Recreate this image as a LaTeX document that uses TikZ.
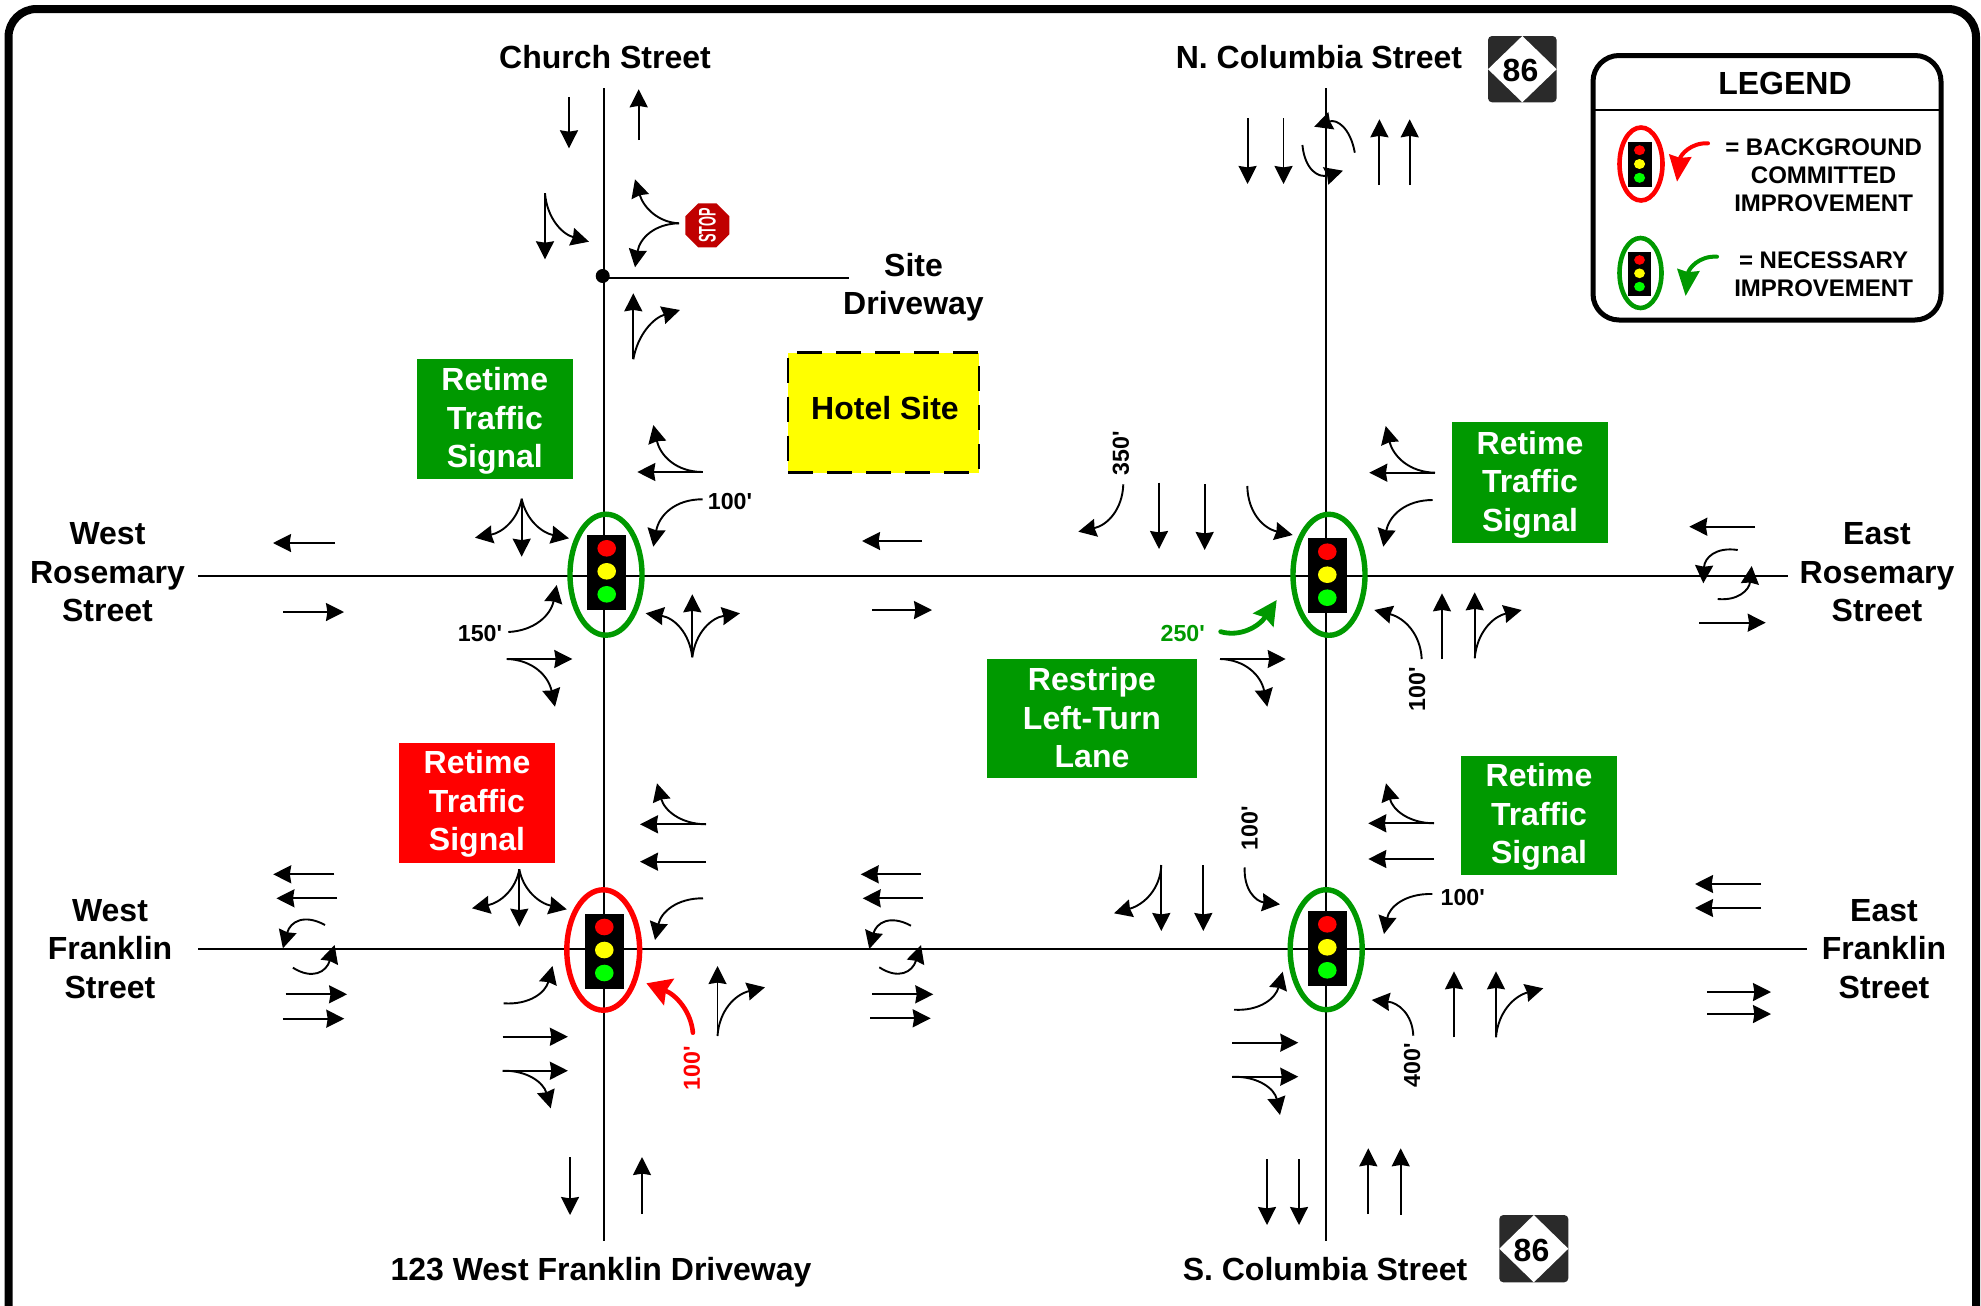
\documentclass[tikz,border=0pt]{standalone}
\usepackage{fontspec}
\usepackage{graphicx}
\setmainfont{Liberation Sans}[Ligatures=TeXOff]
\usetikzlibrary{arrows.meta,shapes.geometric}
\definecolor{dgreen}{HTML}{009900}
\definecolor{stopred}{HTML}{C00000}
\definecolor{shield}{HTML}{2A2A2A}
\definecolor{puryellow}{RGB}{255,255,0}
\newcommand{\bigfont}{\fontsize{16}{19.25}\selectfont\bfseries}
\newcommand{\dimfont}{\fontsize{11.6}{14}\selectfont\bfseries}
\newcommand{\legfont}{\fontsize{12}{14.1}\selectfont\bfseries}
% straight lane arrow
\newcommand{\sa}[4]{\draw[lane] (#1,#2) -- (#3,#4);}
% quadratic curve: start, end, control
\newcommand{\qc}[7][lane]{\draw[#1] (#2,#3) .. controls ({#2+.667*(#6-#2)},{#3+.667*(#7-#3)}) and ({#4+.667*(#6-#4)},{#5+.667*(#7-#5)}) .. (#4,#5);}
% signal head: box centre, light column, light centre, scale
\newcommand{\sigbox}[5]{%
  \fill[black] ({#1-19.7*#5},{#2-37.5*#5}) rectangle ({#1+19.7*#5},{#2+37.5*#5});
  \fill[red] (#3,{#4-23*#5}) ellipse [x radius={9.3*#5}, y radius={8.3*#5}];
  \fill[puryellow] (#3,#4) ellipse [x radius={9.3*#5}, y radius={8.3*#5}];
  \fill[green] (#3,{#4+23*#5}) ellipse [x radius={9.3*#5}, y radius={8.3*#5}];}
\tikzset{
  road/.style={draw=black,line width=1pt},
  lane/.style={draw=black,line width=.95pt,-{Stealth[length=9pt,width=9pt,inset=.7pt]}},
  lbl/.style={inner sep=0pt,align=center,font=\bigfont},
  dimlbl/.style={inner sep=0pt,font=\dimfont},
  leglbl/.style={inner sep=0pt,align=center,font=\legfont},
  signtext/.style={inner sep=0pt,align=center,font=\bigfont,text=white},
  ring/.style={line width=2.7pt},
  legring/.style={line width=2.3pt},
  redthick/.style={draw=red,line width=2.3pt,line cap=round,-{Stealth[length=12pt,width=14pt,inset=1.5pt]}},
  greenthick/.style={draw=dgreen,line width=2.4pt,line cap=round,-{Stealth[length=12pt,width=12pt,inset=1.5pt]}},
  legred/.style={draw=red,line width=2pt,line cap=round,-{Stealth[length=13pt,width=11pt,inset=1pt]}},
  leggreen/.style={draw=dgreen,line width=2pt,line cap=round,-{Stealth[length=13pt,width=11pt,inset=1pt]}}
}
\begin{document}
\begin{tikzpicture}[x=0.5pt,y=-0.5pt]
\useasboundingbox (0,0) rectangle (1981,1306);
\begin{scope}
\clip (0,0) rectangle (1981,1306);
\draw[line width=4pt,rounded corners=14pt] (8.5,1340) -- (8.5,9) -- (1976,9) -- (1976,1340);
\end{scope}

% roads
\draw[road] (604.3,88) -- (604.3,1241);
\draw[road] (1325.7,88) -- (1325.7,1241);
\draw[road] (198,575.7) -- (1788,575.7);
\draw[road] (198,949.3) -- (1807,949.3);
\draw[road] (604.3,278.3) -- (849,278.3);
\fill[black] (602.7,276) circle [radius=7];

% street names
\node[lbl] (church) at (605,57) {Church Street};
\node[lbl] (ncol) at (1319,57) {N. Columbia Street};
\node[lbl] (drive) at (601,1272) {123 West Franklin Driveway};
\node[lbl] (scol) at (1325,1269) {S. Columbia Street};
\node[lbl] (site) at (913.5,287) {Site\\Driveway};
\node[lbl] (wros) at (107.5,572.5) {West\\Rosemary\\Street};
\node[lbl] (eros) at (1877,572.5) {East\\Rosemary\\Street};
\node[lbl] (wfra) at (110,949) {West\\Franklin\\Street};
\node[lbl] (efra) at (1884,949) {East\\Franklin\\Street};

% improvement boxes
\fill[dgreen] (417,359) rectangle (572.7,478.7);
\node[signtext] (b1) at (494.8,421) {Retime\\Traffic\\Signal};
\fill[dgreen] (1452,422) rectangle (1608,542.7);
\node[signtext] (b2) at (1530,484.5) {Retime\\Traffic\\Signal};
\fill[dgreen] (1461,755.5) rectangle (1617,874.7);
\node[signtext] (b3) at (1539,817) {Retime\\Traffic\\Signal};
\fill[red] (399,743) rectangle (555,862.7);
\node[signtext] (b4) at (477,804) {Retime\\Traffic\\Signal};
\fill[dgreen] (987,659) rectangle (1197,778);
\node[signtext] (b5) at (1092,718) {Restripe\\Left-Turn\\Lane};
\node[lbl,draw=black,fill=puryellow,line width=1.4pt,dash pattern=on 12.5pt off 7pt,minimum width=95.5pt,minimum height=60pt] (hotelbox) at (883.5,412.5) {};
\node[lbl] (hotel) at (885,408.5) {Hotel Site};

% shields
\fill[shield,rounded corners=2pt] (1488,36) rectangle (1556.6,102.3);
\fill[white] (1522.3,36) -- (1556.6,69.2) -- (1522.3,102.3) -- (1488,69.2) -- cycle;
\node[lbl] (s1) at (1520.5,70) {86};
\fill[shield,rounded corners=2pt] (1499.3,1215) rectangle (1568.3,1282.3);
\fill[white] (1533.8,1215) -- (1568.3,1248.7) -- (1533.8,1282.3) -- (1499.3,1248.7) -- cycle;
\node[lbl] (s2) at (1531.5,1250) {86};

% stop sign
\node[regular polygon,regular polygon sides=8,fill=stopred,inner sep=0pt,minimum size=23.8pt] (stopsign) at (707.3,225.3) {};
\node[text=white,inner sep=0pt,rotate=90,font=\fontsize{12}{12}\selectfont\bfseries] (stop) at (707.3,225.3) {\scalebox{.53}[1]{STOP}};

% Church Street / driveway
\sa{569}{97}{569}{148.3}
\sa{638.7}{140}{638.7}{89.3}
\sa{545}{193.3}{545}{259.3}
\qc{545}{193.3}{589}{241.7}{548}{230}
\qc{679}{223.3}{635}{179.3}{648}{222}
\qc{679}{223.3}{635}{267.3}{642}{224}
\sa{633.3}{359.3}{633.3}{293.3}
\qc{633.3}{359.3}{680}{310}{640}{322}

% Rosemary / Church
\sa{702.7}{472}{637.3}{472}
\qc{702.7}{472}{653.3}{425}{664}{472}
\qc{702.7}{499.3}{653.3}{546.7}{662}{499}
\node[dimlbl] (d1) at (730,502) {100'};
\sa{521.7}{498.7}{521.7}{556.7}
\qc{521.7}{498.7}{475}{537.7}{516}{530}
\qc{521.7}{498.7}{569}{538.3}{528}{530}
\qc{508.3}{632}{556.7}{585}{548}{630}
\node[dimlbl] (d2) at (480,633.5) {150'};
\sa{506.7}{659}{572.3}{659}
\qc{506.7}{659}{555}{706.7}{545}{660}
\sa{692.3}{657.3}{692.3}{594.3}
\qc{692.3}{657.3}{645.7}{613.3}{688}{620}
\qc{692.3}{657.3}{740}{613.3}{697}{620}
\sa{335}{543}{273}{543}
\sa{283}{612}{344}{612}
\sa{922}{541}{862}{541}
\sa{872}{610}{932}{610}
\draw[ring,draw=dgreen] (606,574.7) ellipse [x radius=36, y radius=60.5];
\sigbox{606.7}{572.5}{606.7}{571.3}{1}

% Rosemary / Columbia
\node[dimlbl,rotate=90] (d3) at (1121,453.5) {350'};
\qc{1123.3}{484.3}{1078.3}{531.7}{1122}{522}
\sa{1159}{482.7}{1159}{549}
\sa{1204.7}{484}{1204.7}{550}
\qc{1247.3}{486}{1292.7}{535}{1248}{525}
\sa{1435}{472.7}{1369.3}{472.7}
\qc{1435}{472.7}{1385.7}{426}{1397}{472}
\qc{1432.7}{500}{1383.3}{546.7}{1392}{500}
\qc{1421.7}{659}{1374.3}{610}{1420}{622}
\node[dimlbl,rotate=90] (d4) at (1417,689.5) {100'};
\sa{1442}{659}{1442}{593.3}
\sa{1474.7}{658.3}{1474.7}{592.3}
\qc{1474.7}{658.3}{1521.7}{610}{1478}{620}
\node[dimlbl,text=dgreen] (d5) at (1182.7,633.5) {250'};
\qc[greenthick]{1220.7}{631.7}{1276.7}{600}{1250}{640}
\sa{1220}{659}{1285.7}{659}
\qc{1220}{659}{1267.3}{706.7}{1258}{660}
\draw[ring,draw=dgreen] (1329,574.8) ellipse [x radius=36, y radius=60.5];
\sigbox{1327.2}{575.8}{1327.3}{574.7}{1}

% East Rosemary
\sa{1755}{526.7}{1689.3}{526.7}
\qc{1737.7}{550}{1703.3}{583.3}{1705}{545}
\qc{1717.7}{599}{1751.7}{566}{1748}{602}
\sa{1699.3}{622.7}{1765.7}{622.7}

% Franklin / Church
\sa{519.3}{869.3}{519.3}{926.7}
\qc{519.3}{869.3}{472}{908.3}{514}{900}
\qc{519.3}{869.3}{566.8}{909.3}{525}{900}
\sa{706}{824.3}{640}{824.3}
\qc{706}{824.3}{657}{783.3}{668}{824}
\sa{706}{861.7}{640}{861.7}
\qc{703}{898.3}{655}{940}{664}{898}
\sa{717.5}{1036}{717.5}{966}
\qc{717.5}{1036}{765}{987.3}{720}{998}
\qc[redthick]{692.9}{1032.7}{646.4}{983.3}{690}{1000}
\node[dimlbl,text=red,rotate=90] (d6) at (692,1068.5) {100'};
\qc{503.6}{1003.3}{552.5}{966}{542}{1006}
\sa{502.5}{1036.7}{567.9}{1036.7}
\sa{502.5}{1070.7}{567.9}{1070.7}
\qc{502.5}{1070.7}{550.7}{1108.3}{540}{1070}
\draw[ring,draw=red] (603.2,950) ellipse [x radius=36.4, y radius=60.2];
\sigbox{604.3}{951.2}{604.3}{950}{1}

% West Franklin
\sa{334.3}{874.3}{273.2}{874.3}
\sa{337}{898.3}{276.4}{898.3}
\qc{325}{925}{282.9}{948.3}{294}{908}
\qc{292.9}{967.7}{334.6}{945}{322}{986}
\sa{285.7}{994.3}{347.1}{994.3}
\sa{282.9}{1018.7}{344.3}{1018.7}

% Middle Franklin
\sa{921}{874.3}{860.7}{874.3}
\sa{923.3}{898.3}{862.7}{898.3}
\qc{911}{925.7}{869.3}{949}{880}{909}
\qc{879.3}{967.3}{921}{945}{908}{986}
\sa{872.3}{994.3}{933.3}{994.3}
\sa{870}{1018.3}{930.7}{1018.3}

% Franklin / Columbia
\sa{1434}{823.3}{1368.3}{823.3}
\qc{1434}{823.3}{1386}{783.3}{1396}{823}
\sa{1434}{859}{1368.3}{859}
\node[dimlbl] (d7) at (1462.7,898) {100'};
\qc{1432.3}{894}{1384}{934}{1392}{893}
\sa{1161.3}{865}{1161.3}{931}
\qc{1161.3}{865}{1114}{913.3}{1160}{900}
\sa{1203.3}{865}{1203.3}{931}
\node[dimlbl,rotate=90] (d8) at (1249.5,828.5) {100'};
\qc{1244.7}{867.3}{1280}{904.3}{1243}{900}
\qc{1234}{1009.7}{1282.7}{971.7}{1272}{1012}
\sa{1232.3}{1042.7}{1298.3}{1042.7}
\sa{1232.3}{1076.7}{1298.3}{1076.7}
\qc{1232.3}{1076.7}{1280}{1115}{1272}{1076}
\qc{1413.3}{1035.7}{1371.7}{1000}{1412}{1004}
\node[dimlbl,rotate=90] (d9) at (1412,1065) {400'};
\sa{1454}{1037.3}{1454}{971.3}
\sa{1496}{1037.3}{1496}{971.3}
\qc{1496}{1037.3}{1543.3}{988.3}{1499}{1000}
\draw[ring,draw=dgreen] (1326.2,949.7) ellipse [x radius=36, y radius=60];
\sigbox{1327.2}{948.3}{1327.3}{947.3}{1}

% East Franklin
\sa{1761}{884}{1695}{884}
\sa{1761}{908}{1695}{908}
\sa{1707}{992}{1771}{992}
\sa{1707}{1014}{1771}{1014}

% Columbia north
\sa{1247.6}{118.3}{1247.6}{184}
\sa{1283.5}{118.3}{1283.5}{184}
\qc{1354.8}{152.7}{1314.2}{126.7}{1348}{115}
\qc{1302.4}{145}{1343}{170.7}{1306}{182}
\sa{1379.4}{185}{1379.4}{119.3}
\sa{1409.7}{185}{1409.7}{119.3}

% Columbia south
\sa{1267}{1159.3}{1267}{1225}
\sa{1299}{1159}{1299}{1225}
\sa{1368.3}{1214}{1368.3}{1148.3}
\sa{1400.7}{1214.7}{1400.7}{1148.3}

% Church south
\sa{570}{1157}{570}{1215}
\sa{642}{1214}{642}{1157}

% legend
\draw[line width=2.5pt,rounded corners=13pt,fill=white] (1593,55.5) rectangle (1941,320);
\draw[line width=1pt] (1593,110) -- (1941,110);
\node[lbl] (legend) at (1785,83) {LEGEND};
\draw[legring,draw=red] (1641,164) ellipse [x radius=21.5, y radius=36.5];
\sigbox{1640}{164.7}{1639.5}{164}{.6}
\qc[legred]{1708}{143.3}{1677}{181.7}{1682}{142}
\node[leglbl] (t1) at (1823.6,175.3) {= BACKGROUND\\COMMITTED\\IMPROVEMENT};
\draw[legring,draw=dgreen] (1640.5,273) ellipse [x radius=21, y radius=35];
\sigbox{1639.5}{273.8}{1639.5}{273.3}{.58}
\qc[leggreen]{1717}{256.7}{1685.6}{296}{1690}{255}
\node[leglbl] (t2) at (1823.6,274.3) {= NECESSARY\\IMPROVEMENT};
\end{tikzpicture}
\end{document}
